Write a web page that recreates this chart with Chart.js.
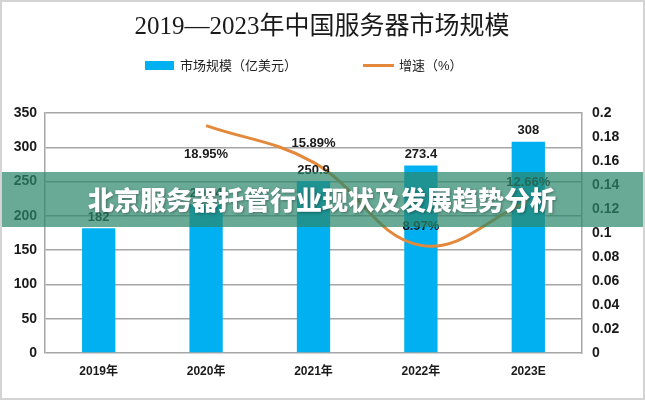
<!DOCTYPE html>
<html>
<head>
<meta charset="utf-8">
<script src="https://cdn.jsdelivr.net/npm/chart.js@4/dist/chart.umd.min.js"></script>
<style>
  html, body { margin: 0; padding: 0; background: #ffffff; }
  #wrap { width: 645px; height: 400px; position: relative; }
</style>
</head>
<body>
<div id="wrap"><canvas id="c" width="645" height="400"></canvas></div>
<script>
const chartTitle = '2019—2023年中国服务器市场规模';
const bannerText = '北京服务器托管行业现状及发展趋势分析';
const categories = ['2019年', '2020年', '2021年', '2022年', '2023E'];
const marketSize = [182, 216.4, 250.9, 273.4, 308];
const growthRate = [null, 0.1895, 0.1589, 0.0897, 0.1266];
const seriesNames = ['市场规模（亿美元）', '增速（%）'];
const leftTicks = [0, 50, 100, 150, 200, 250, 300, 350];
const rightTicks = [0, 0.02, 0.04, 0.06, 0.08, 0.1, 0.12, 0.14, 0.16, 0.18, 0.2];

const SANS = '"Liberation Sans", "Noto Sans CJK SC", sans-serif';
const BAR_COLOR = '#00B0F0';
const LINE_COLOR = '#E4893B';
const GRID = '#a6a6a6';

const decor = {
  id: 'decor',
  afterDraw(chart) {
    const ctx = chart.ctx;
    ctx.save();
    // title
    ctx.fillStyle = '#1a1a1a';
    ctx.font = '25px "Liberation Serif", "Noto Sans CJK SC", serif';
    ctx.textAlign = 'center';
    ctx.textBaseline = 'middle';
    ctx.fillText(chartTitle, 322, 27);
    // legend
    const ds = chart.data.datasets;
    ctx.font = '13px ' + SANS;
    ctx.textAlign = 'left';
    ctx.fillStyle = ds[0].backgroundColor;
    ctx.fillRect(145, 61, 29, 9);
    ctx.fillStyle = '#222';
    ctx.fillText(ds[0].label, 180, 66);
    ctx.strokeStyle = ds[1].borderColor;
    ctx.lineWidth = 3;
    ctx.beginPath(); ctx.moveTo(363, 65.5); ctx.lineTo(394, 65.5); ctx.stroke();
    ctx.fillText(ds[1].label, 399, 66);

    // data labels
    ctx.textAlign = 'center';
    ctx.fillStyle = '#1a1a1a';
    ctx.font = 'bold 13px ' + SANS;
    chart.getDatasetMeta(0).data.forEach((el, i) => {
      ctx.fillText(String(ds[0].data[i]), el.x, el.y - 11);
    });
    chart.getDatasetMeta(1).data.forEach((el, i) => {
      const v = ds[1].data[i];
      if (v == null) return;
      const txt = (v * 100).toFixed(2) + '%';
      const dy = i === 1 ? 29 : -19;
      ctx.fillText(txt, el.x, el.y + dy);
    });

    // banner overlay
    ctx.fillStyle = 'rgba(42,135,107,0.71)';
    ctx.fillRect(0, 172, 645, 55);
    ctx.font = '900 26px "Noto Sans CJK SC", sans-serif';
    ctx.shadowColor = 'rgba(0,0,0,0.35)';
    ctx.shadowBlur = 3;
    ctx.shadowOffsetX = 1;
    ctx.shadowOffsetY = 1;
    ctx.fillStyle = '#ffffff';
    ctx.fillText(bannerText, 322, 200);
    ctx.shadowColor = 'transparent';

    // outer frame
    ctx.strokeStyle = '#d4d4d4';
    ctx.lineWidth = 2;
    ctx.strokeRect(1, 1, 643, 398);
    ctx.restore();
  }
};

new Chart(document.getElementById('c'), {
  data: {
    labels: categories,
    datasets: [
      {
        type: 'bar',
        label: seriesNames[0],
        data: marketSize,
        yAxisID: 'y',
        backgroundColor: BAR_COLOR,
        borderWidth: 0,
        categoryPercentage: 1,
        barPercentage: 0.31,
        order: 1
      },
      {
        type: 'line',
        label: seriesNames[1],
        data: growthRate,
        yAxisID: 'y1',
        borderColor: LINE_COLOR,
        backgroundColor: LINE_COLOR,
        borderWidth: 3,
        pointRadius: 0,
        tension: 0.4,
        fill: false,
        order: 0
      }
    ]
  },
  options: {
    responsive: false,
    animation: false,
    layout: { padding: { top: 113, left: 0, right: 0, bottom: 0 } },
    plugins: { legend: { display: false }, title: { display: false }, tooltip: { enabled: false } },
    scales: {
      x: {
        grid: { display: false, drawTicks: false },
        border: { display: false },
        ticks: { color: '#1a1a1a', font: { family: SANS, size: 12, weight: 'bold' }, padding: 11 },
        afterFit(s) { s.height = 47; }
      },
      y: {
        position: 'left',
        min: 0, max: 350,
        afterBuildTicks(s) { s.ticks = leftTicks.map(v => ({ value: v })); },
        grid: { color: GRID, lineWidth: 1.5, drawTicks: false },
        border: { display: true, color: GRID, width: 1.5 },
        ticks: { color: '#1a1a1a', font: { family: SANS, size: 14, weight: 'bold' }, padding: 8 },
        afterFit(s) { s.width = 45; }
      },
      y1: {
        position: 'right',
        min: 0, max: 0.2,
        afterBuildTicks(s) { s.ticks = rightTicks.map(v => ({ value: v })); },
        grid: { display: false, drawTicks: false },
        border: { display: true, color: GRID, width: 1.5 },
        ticks: { color: '#1a1a1a', font: { family: SANS, size: 14, weight: 'bold' }, padding: 10,
                 callback: v => String(Math.round(v * 100) / 100) },
        afterFit(s) { s.width = 63; }
      }
    }
  },
  plugins: [decor]
});
</script>
</body>
</html>
